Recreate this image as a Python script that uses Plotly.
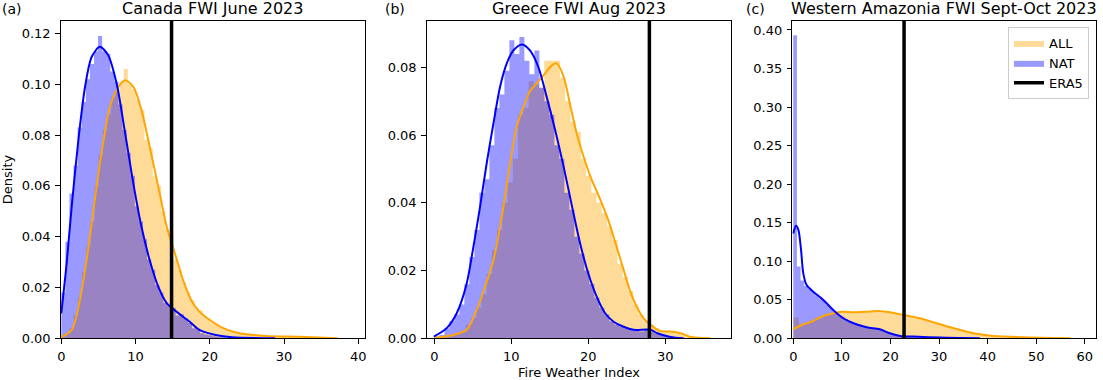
import plotly.graph_objects as go

# ---------------- data ----------------
era5 = [14.85, 27.95, 22.8]
titles = ["Canada FWI June 2023", "Greece FWI Aug 2023", "Western Amazonia FWI Sept-Oct 2023"]
panel_labels = ["(a)", "(b)", "(c)"]
series_names = ["ALL", "NAT", "ERA5"]

# histogram bar heights (density), bins start at 0
a_all_bins = [0.0005, 0.002, 0.004, 0.009, 0.016, 0.026, 0.036, 0.046, 0.060, 0.072,
              0.082, 0.088, 0.095, 0.097, 0.101, 0.106, 0.100, 0.098, 0.094, 0.090,
              0.078, 0.075, 0.064, 0.060, 0.050, 0.043, 0.041, 0.031, 0.027, 0.022,
              0.018, 0.015, 0.012, 0.011, 0.0085, 0.0075, 0.006, 0.0055, 0.0045, 0.0035,
              0.003, 0.0025, 0.002, 0.0018, 0.0016, 0.0014, 0.0012, 0.001, 0.0009, 0.0008,
              0.0006, 0.0006, 0.0005, 0.0005, 0.0005, 0.0005, 0.0004, 0.0004, 0.0004, 0.0003,
              0.0003, 0.0003, 0.0002, 0.0002, 0.0002, 0.0001, 0.0001]
a_nat_bins = [0.018, 0.038, 0.057, 0.068, 0.083, 0.093, 0.102, 0.108, 0.113, 0.119,
              0.113, 0.112, 0.105, 0.101, 0.092, 0.082, 0.073, 0.064, 0.052, 0.046,
              0.039, 0.031, 0.027, 0.021, 0.018, 0.014, 0.013, 0.012, 0.009, 0.0095,
              0.008, 0.006, 0.004, 0.0035, 0.002, 0.0015, 0.0012, 0.0008, 0.0006, 0.0004,
              0.0003, 0.0002, 0.0001, 0.0001, 0.0001, 0.0, 0.0, 0.0, 0.0, 0.0001]
b_all_bins = [0.0002, 0.0003, 0.0005, 0.001, 0.0015, 0.002, 0.004, 0.006, 0.009, 0.013,
              0.019, 0.026, 0.032, 0.040, 0.046, 0.053, 0.066, 0.068, 0.076, 0.075,
              0.074, 0.082, 0.082, 0.082, 0.077, 0.070, 0.064, 0.061, 0.053, 0.048,
              0.043, 0.040, 0.037, 0.033, 0.029, 0.022, 0.018, 0.014, 0.010, 0.007,
              0.005, 0.004, 0.003, 0.002, 0.002, 0.002, 0.0015, 0.001, 0.0007, 0.0003,
              0.0002]
b_nat_bins = [0.0005, 0.001, 0.003, 0.005, 0.007, 0.010, 0.016, 0.024, 0.032, 0.043,
              0.047, 0.057, 0.068, 0.072, 0.079, 0.088, 0.084, 0.089, 0.082, 0.078,
              0.085, 0.074, 0.070, 0.066, 0.057, 0.053, 0.043, 0.038, 0.030, 0.025,
              0.020, 0.016, 0.012, 0.009, 0.007, 0.005, 0.004, 0.0035, 0.003, 0.0025,
              0.0025, 0.002, 0.0025, 0.002, 0.0015, 0.001, 0.0006, 0.0003, 0.0002, 0.0001]
c_all_bins = [0.027, 0.018, 0.020, 0.023, 0.026, 0.029, 0.031, 0.033, 0.034, 0.034,
              0.033, 0.034, 0.034, 0.035, 0.036, 0.035, 0.034, 0.033, 0.031, 0.030,
              0.029, 0.028, 0.026, 0.024, 0.022, 0.020, 0.018, 0.016, 0.014, 0.012,
              0.010, 0.008, 0.006, 0.005, 0.004, 0.003, 0.0025, 0.002, 0.0017, 0.0015,
              0.0012, 0.001, 0.0008, 0.0006, 0.0005, 0.0004, 0.0003, 0.0002, 0.0001, 0.0001]
c_nat_bins = [0.393, 0.093, 0.075, 0.068, 0.064, 0.060, 0.056, 0.052, 0.049, 0.044,
              0.039, 0.034, 0.030, 0.028, 0.025, 0.022, 0.020, 0.018, 0.016, 0.0145,
              0.014, 0.013, 0.012, 0.0115, 0.010, 0.008, 0.0065, 0.005, 0.004, 0.003,
              0.0025, 0.002, 0.002, 0.0018, 0.0015, 0.0013, 0.0012, 0.001, 0.001, 0.0009,
              0.0008, 0.0007, 0.0006, 0.0005, 0.0004, 0.0003, 0.0003, 0.0002, 0.0002, 0.0001]

# KDE curves
a_all_kde_x = [0, 1.4, 2.5, 3.6, 4.75, 5.7, 6.55, 7.7, 8.6, 9.7, 10.8, 11.9, 13.06, 14.2,
               15.3, 16.4, 17.5, 18.6, 20.0, 21.8, 24.0, 27.6, 32.0, 37.2]
a_all_kde_y = [0.0005, 0.0033, 0.015, 0.0347, 0.0597, 0.078, 0.0911, 0.099, 0.1016, 0.099,
               0.0898, 0.0754, 0.0597, 0.0439, 0.0334, 0.0229, 0.015, 0.0105, 0.0072, 0.004,
               0.002, 0.0009, 0.0006, 0.0]
a_nat_kde_x = [0, 0.72, 1.4, 2.3, 3.2, 4.1, 5.2, 6.3, 7.45, 8.6, 9.7, 10.8, 11.9, 13.06,
               14.2, 15.5, 17.3, 18.6, 20.8, 23.0, 28.8]
a_nat_kde_y = [0.0098, 0.0295, 0.0518, 0.078, 0.099, 0.1108, 0.1147, 0.1115, 0.1003, 0.0807,
               0.061, 0.0439, 0.0308, 0.0203, 0.0138, 0.0105, 0.0065, 0.0033, 0.0013, 0.0004, 0.0]
b_all_kde_x = [0.1, 2.5, 4.2, 5.5, 6.6, 7.68, 8.76, 9.85, 10.7, 11.6, 12.4, 13.3, 14.2, 15.3,
               15.9, 16.8, 17.7, 18.5, 19.4, 20.3, 21.6, 22.6, 23.7, 24.6, 25.4, 26.3, 27.2,
               28.1, 29.3, 30.7, 32.0, 33.2, 35.9]
b_all_kde_y = [0.0002, 0.001, 0.0025, 0.0084, 0.0153, 0.0231, 0.0359, 0.0517, 0.0625, 0.0684,
               0.0728, 0.0753, 0.0777, 0.0807, 0.0812, 0.0773, 0.0684, 0.0605, 0.0536, 0.0477,
               0.0408, 0.0349, 0.027, 0.0202, 0.0143, 0.0093, 0.0059, 0.004, 0.0022, 0.002,
               0.0015, 0.0005, 0.0]
b_nat_kde_x = [-0.08, 1.6, 2.9, 4.2, 5.07, 5.94, 6.8, 7.68, 8.54, 9.41, 10.3, 11.4, 12.4, 13.5,
               14.6, 15.7, 16.8, 17.9, 18.95, 20.0, 21.1, 22.2, 23.3, 24.6, 25.9, 28.1, 29.0,
               30.7, 32.4]
b_nat_kde_y = [0.0005, 0.003, 0.0074, 0.0162, 0.027, 0.0389, 0.0517, 0.0635, 0.0743, 0.0812,
               0.0851, 0.0868, 0.0851, 0.0802, 0.0713, 0.0615, 0.0507, 0.0389, 0.028, 0.0192,
               0.0123, 0.0074, 0.0049, 0.0034, 0.0025, 0.0025, 0.0015, 0.0004, 0.0]
c_all_kde_x = [0, 1.7, 3.77, 5.8, 8.2, 9.95, 12.4, 15.1, 17.5, 19.9, 22.7, 26.1, 29.5, 33.0,
               37.1, 41.2, 47.4, 57.0]
c_all_kde_y = [0.0117, 0.0173, 0.0216, 0.028, 0.0324, 0.0345, 0.0337, 0.0345, 0.0354, 0.0337,
               0.0302, 0.026, 0.0195, 0.013, 0.0065, 0.003, 0.0013, 0.0]
c_nat_kde_x = [0.0, 0.56, 1.04, 1.6, 2.06, 2.75, 4.1, 5.8, 7.2, 8.6, 10.3, 12.4, 15.1, 17.8,
               19.9, 22.0, 24.7, 30.2, 38.4]
c_nat_kde_y = [0.136, 0.146, 0.141, 0.1146, 0.0843, 0.069, 0.0605, 0.052, 0.0432, 0.0345,
               0.026, 0.0195, 0.0143, 0.0117, 0.0065, 0.003, 0.0022, 0.0009, 0.0]

# ---------------- layout / style ----------------
W, H = 1103, 380
bin_w = [(0.56, 0.55), (0.68, 0.65), (1.15, 0.75)]   # (ALL, NAT) bin widths
xranges = [[-0.08, 40.9], [-1.0, 38.6], [-0.2, 62.3]]
yranges = [[0, 0.125], [0, 0.0938], [0, 0.412]]
ydticks = [0.02, 0.02, 0.05]
xdoms_px = [(60.7, 365.0), (426.7, 731.3), (792.3, 1096.0)]
ydom_px = (20.7, 338.3)
label_px = [0, 382.7, 744]
ORANGE, BLUE = "#FFA500", "#0000FF"
ORANGE_FILL, BLUE_FILL = "rgba(255,165,0,0.4)", "rgba(0,0,255,0.4)"
FONT = "DejaVu Sans"


def step_hist(heights, w):
    """Histogram outline: bin edges from the bin width, step-filled down to zero."""
    edges = [k * w for k in range(len(heights) + 1)]
    return edges, list(heights) + [heights[-1]]


fig = go.Figure()
panels = [
    (a_all_bins, a_nat_bins, a_all_kde_x, a_all_kde_y, a_nat_kde_x, a_nat_kde_y),
    (b_all_bins, b_nat_bins, b_all_kde_x, b_all_kde_y, b_nat_kde_x, b_nat_kde_y),
    (c_all_bins, c_nat_bins, c_all_kde_x, c_all_kde_y, c_nat_kde_x, c_nat_kde_y),
]
for i, (ab, nb, akx, aky, nkx, nky) in enumerate(panels):
    xa = "x" if i == 0 else f"x{i+1}"
    ya = "y" if i == 0 else f"y{i+1}"
    wa, wn = bin_w[i]
    leg = (i == 2)
    ex, ey = step_hist(ab, wa)
    fig.add_trace(go.Scatter(x=ex, y=ey, mode="lines", line=dict(width=0, shape="hv", color=ORANGE_FILL),
                             fill="tozeroy", fillcolor=ORANGE_FILL,
                             name="ALL", showlegend=leg, xaxis=xa, yaxis=ya, legendrank=1))
    ex, ey = step_hist(nb, wn)
    fig.add_trace(go.Scatter(x=ex, y=ey, mode="lines", line=dict(width=0, shape="hv", color=BLUE_FILL),
                             fill="tozeroy", fillcolor=BLUE_FILL,
                             name="NAT", showlegend=leg, xaxis=xa, yaxis=ya, legendrank=2))
    fig.add_trace(go.Scatter(x=akx, y=aky, mode="lines",
                             line=dict(color=ORANGE, width=2, shape="spline", smoothing=0.8),
                             showlegend=False, xaxis=xa, yaxis=ya))
    fig.add_trace(go.Scatter(x=nkx, y=nky, mode="lines",
                             line=dict(color=BLUE, width=2, shape="spline", smoothing=0.8),
                             showlegend=False, xaxis=xa, yaxis=ya))
    fig.add_trace(go.Scatter(x=[era5[i], era5[i]], y=yranges[i], mode="lines",
                             line=dict(color="black", width=3.5), name="ERA5",
                             showlegend=leg, xaxis=xa, yaxis=ya, legendrank=3))

axis_common = dict(showline=True, mirror=True, linecolor="black", linewidth=1,
                   ticks="outside", ticklen=4.5, tickwidth=1, tickcolor="black",
                   showgrid=False, zeroline=False, automargin=False,
                   tickfont=dict(family=FONT, size=13, color="black"))
layout = dict(width=W, height=H, autosize=False, margin=dict(l=0, r=0, t=0, b=0, autoexpand=False),
              paper_bgcolor="white", plot_bgcolor="white",
              font=dict(family=FONT, size=13, color="black"),
              showlegend=True,
              legend=dict(x=1089 / W, y=1 - 27 / H, xanchor="right", yanchor="top",
                          bgcolor="rgba(255,255,255,0.8)", bordercolor="#cccccc", borderwidth=1,
                          font=dict(family=FONT, size=13, color="black"),
                          tracegroupgap=0, itemwidth=30))
annotations = []
for i in range(3):
    sx = "" if i == 0 else str(i + 1)
    x0, x1 = xdoms_px[i]
    layout["xaxis" + sx] = dict(axis_common, domain=[x0 / W, x1 / W], range=xranges[i],
                                tick0=0, dtick=10, anchor="y" + sx, ticklabelstandoff=2)
    layout["yaxis" + sx] = dict(axis_common, domain=[1 - ydom_px[1] / H, 1 - ydom_px[0] / H],
                                range=yranges[i], tick0=0, dtick=ydticks[i], tickformat=".2f",
                                anchor="x" + sx, ticklabelstandoff=2)
    annotations.append(dict(text=titles[i], xref="paper", yref="paper", x=(x0 + x1) / 2 / W,
                            y=1 - 8.5 / H, xanchor="center", yanchor="middle", showarrow=False,
                            font=dict(family=FONT, size=16, color="black")))
    annotations.append(dict(text=panel_labels[i], xref="paper", yref="paper", x=label_px[i] / W,
                            y=1 - 8.5 / H, xanchor="left", yanchor="middle", showarrow=False,
                            font=dict(family=FONT, size=14, color="black")))
layout["xaxis2"]["title"] = dict(text="Fire Weather Index", font=dict(family=FONT, size=13, color="black"), standoff=8)
layout["yaxis"]["title"] = dict(text="Density", font=dict(family=FONT, size=13, color="black"), standoff=9)
layout["annotations"] = annotations
fig.update_layout(**layout)

fig.write_html("out.html", config={"displayModeBar": False},
               post_script="document.body.style.margin='0';")
